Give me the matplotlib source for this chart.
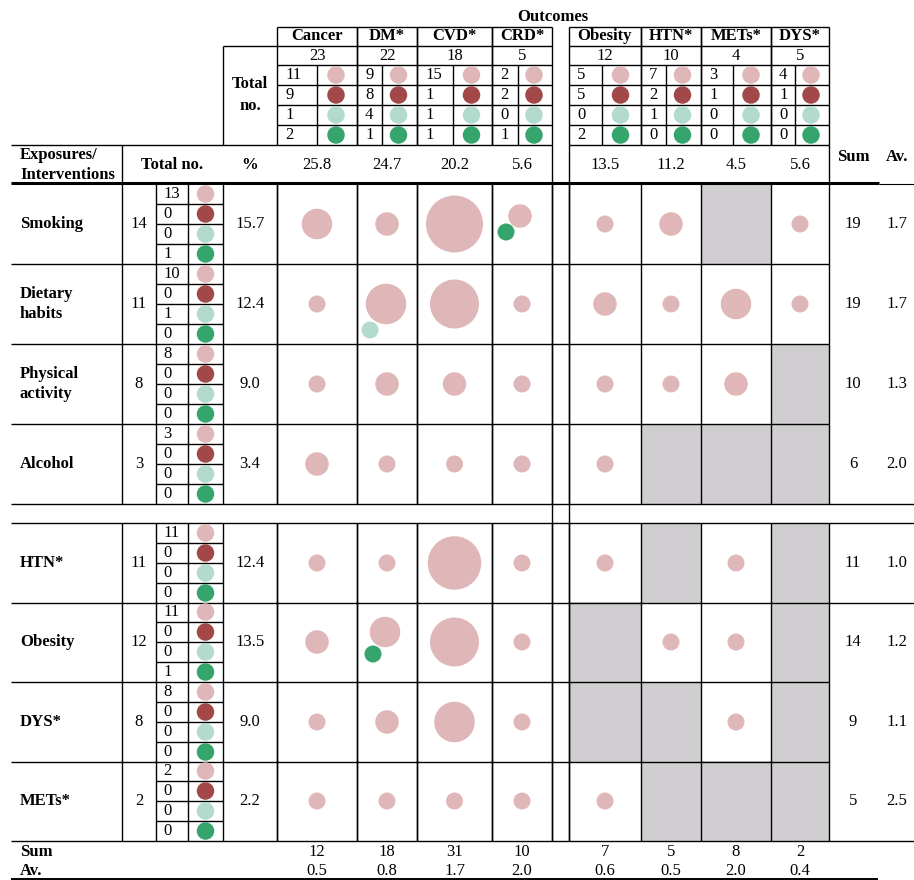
import matplotlib.pyplot as plt
from matplotlib.patches import Circle, Rectangle

plt.rcParams['font.family'] = ['Liberation Serif', 'DejaVu Serif']

# ---- data ----
outcomes = ["Cancer", "DM*", "CVD*", "CRD*", "Obesity", "HTN*", "METs*", "DYS*"]
outcome_total = [23, 22, 18, 5, 12, 10, 4, 5]
# counts per study type: pink, dark red, light teal, green
outcome_types = [[11, 9, 1, 2], [9, 8, 4, 1], [15, 1, 1, 1], [2, 2, 0, 1],
                 [5, 5, 0, 2], [7, 2, 1, 0], [3, 1, 0, 0], [4, 1, 0, 0]]
outcome_pct = ["25.8", "24.7", "20.2", "5.6", "13.5", "11.2", "4.5", "5.6"]
outcome_sum = [12, 18, 31, 10, 7, 5, 8, 2]
outcome_av = ["0.5", "0.8", "1.7", "2.0", "0.6", "0.5", "2.0", "0.4"]

exposures = ["Smoking", "Dietary\nhabits", "Physical\nactivity", "Alcohol",
             "HTN*", "Obesity", "DYS*", "METs*"]
exposure_total = [14, 11, 8, 3, 11, 12, 8, 2]
exposure_types = [[13, 0, 0, 1], [10, 0, 1, 0], [8, 0, 0, 0], [3, 0, 0, 0],
                  [11, 0, 0, 0], [11, 0, 0, 1], [8, 0, 0, 0], [2, 0, 0, 0]]
exposure_pct = ["15.7", "12.4", "9.0", "3.4", "12.4", "13.5", "9.0", "2.2"]
exposure_sum = [19, 19, 10, 6, 11, 14, 9, 5]
exposure_av = ["1.7", "1.7", "1.3", "2.0", "1.0", "1.2", "1.1", "2.5"]

# number of links per exposure/outcome cell (None = not applicable)
links = [
    [3, 2, 7, 2, 1, 2, None, 1],
    [1, 4, 5, 1, 2, 1, 3, 1],
    [1, 2, 2, 1, 1, 1, 2, None],
    [2, 1, 1, 1, 1, None, None, None],
    [1, 1, 6, 1, 1, None, 1, None],
    [2, 3, 5, 1, None, 1, 1, None],
    [1, 2, 4, 1, None, None, 1, None],
    [1, 1, 1, 1, 1, None, None, None],
]
# extra links of another study type: (row, col, type, count)
extra_links = [(0, 3, 3, 1), (1, 1, 2, 1), (5, 1, 3, 1)]

# ---- layout ----
type_colors = ["#DFB7B8", "#A24848", "#B2DBCD", "#36A56D"]
gray = "#D0CED0"
col_l = [277, 357, 417, 492, 569, 641, 701, 771]
col_r = [357, 417, 492, 552, 641, 701, 771, 829]
col_div = [317, 382, 453, 518, 602, 666, 733, 795]
row_top = [184, 264, 344, 424, 523, 602, 682, 761]
row_h = 80
# bubble diameter (px) for a given number of links
diam = {1: 17, 2: 23.5, 3: 30.5, 4: 40.5, 5: 49, 6: 53.5, 7: 57}
# bubble placement inside cells holding two study types
main_off = {(0, 3): (-2, -8), (1, 1): (-1, 0), (5, 1): (-2, -10)}
extra_off = {(0, 3): (-16, 8), (1, 1): (-17, 26), (5, 1): (-14, 12)}

fig = plt.figure(figsize=(9.14, 8.8), dpi=100)
ax = fig.add_axes([0, 0, 1, 1])
ax.set_xlim(0, 914)
ax.set_ylim(880, 0)
ax.axis("off")

LW = 1.0
FS = 12
BS = 12


def hline(y, x0, x1, lw=LW):
    ax.plot([x0, x1], [y, y], color="k", lw=lw, solid_capstyle="butt")


def vline(x, y0, y1, lw=LW):
    ax.plot([x, x], [y0, y1], color="k", lw=lw, solid_capstyle="butt")


def txt(x, y, s, bold=False, ha="center", size=FS, **kw):
    ax.text(x, y, s, ha=ha, va="center", fontsize=size,
            fontweight="bold" if bold else "normal", **kw)


def dot(x, y, d, color):
    ax.add_patch(Circle((x, y), d / 2, color=color, lw=0, zorder=3))


# gray cells first so the grid sits on top
for i, row in enumerate(links):
    for j, v in enumerate(row):
        if v is None:
            ax.add_patch(Rectangle((col_l[j], row_top[i]), col_r[j] - col_l[j],
                                   row_h, color=gray, lw=0, zorder=1))

# ---- header: outcomes ----
txt(553, 17, "Outcomes", bold=True, size=BS)
for blk in ((0, 4), (4, 8)):
    x0, x1 = col_l[blk[0]], col_r[blk[1] - 1]
    for y in (27, 46, 65, 85, 105, 125, 145):
        hline(y, x0, x1)
for j in range(8):
    vline(col_l[j], 27, 145)
    vline(col_r[j], 27, 145)
    vline(col_div[j], 65, 145)
    txt((col_l[j] + col_r[j]) / 2, 36, outcomes[j], bold=True, size=BS)
    txt((col_l[j] + col_r[j]) / 2, 56, str(outcome_total[j]))
    for k in range(4):
        yc = 75 + 20 * k
        txt(col_l[j] + 8, yc, str(outcome_types[j][k]), ha="left")
        dot((col_div[j] + col_r[j]) / 2 - 1, yc, 17.5, type_colors[k])
    txt((col_l[j] + col_r[j]) / 2, 165, outcome_pct[j])

# "Total no." box over the % column
hline(46, 223, 277)
vline(223, 46, 145)
txt(250, 95, "Total\nno.", bold=True, size=BS, linespacing=1.45)

# ---- header: exposures ----
hline(145, 11, 277)
vline(122, 145, 184)
vline(829, 145, 184)
txt(20, 165, "Exposures/\nInterventions", bold=True, ha="left", size=BS,
    linespacing=1.4)
txt(172, 165, "Total no.", bold=True, size=BS)
txt(250, 165, "%", bold=True, size=BS)
txt(853, 157, "Sum", bold=True, size=BS)
txt(897, 157, "Av.", bold=True, size=BS)
hline(183, 11, 879, lw=2.2)
hline(184, 879, 914, lw=0.8)

# ---- body ----
for i in range(8):
    y0 = row_top[i]
    y1 = y0 + row_h
    yc = y0 + row_h / 2
    full = i in (3, 4, 7)
    hline(y1, 11, 914 if full else 829)
    if i == 4:
        hline(y0, 11, 914)
    for x in (122, 156, 188, 223, 277, 829):
        vline(x, y0, y1)
    for x in col_l[:4] + col_r[:4] + col_l[4:]:
        vline(x, y0, y1)
    for k in range(1, 4):
        hline(y0 + 20 * k, 156, 223)
    txt(20, yc, exposures[i], bold=True, ha="left", linespacing=1.35)
    txt(139, yc, str(exposure_total[i]))
    for k in range(4):
        ys = y0 + 10 + 20 * k
        txt(163, ys, str(exposure_types[i][k]), ha="left")
        dot(205.5, ys, 17.5, type_colors[k])
    txt(250, yc, exposure_pct[i])
    txt(853, yc, str(exposure_sum[i]))
    txt(897, yc, exposure_av[i])
    for j in range(8):
        v = links[i][j]
        if v is None:
            continue
        xc = (col_l[j] + col_r[j]) / 2
        dx, dy = main_off.get((i, j), (0, 0))
        dot(xc + dx, yc + dy, diam[v], type_colors[0])

for i, j, t, n in extra_links:
    xc = (col_l[j] + col_r[j]) / 2
    yc = row_top[i] + row_h / 2
    dx, dy = extra_off[(i, j)]
    dot(xc + dx, yc + dy, diam[n], type_colors[t])

# gap column between the two outcome groups
vline(552, 145, 841)
vline(569, 145, 841)

# ---- footer ----
txt(20, 852, "Sum", bold=True, ha="left", size=BS)
txt(20, 871, "Av.", bold=True, ha="left", size=BS)
for j in range(8):
    xc = (col_l[j] + col_r[j]) / 2
    txt(xc, 852, str(outcome_sum[j]))
    txt(xc, 871, outcome_av[j])
hline(879, 11, 878, lw=1.4)

fig.savefig("out.png", dpi=100)
